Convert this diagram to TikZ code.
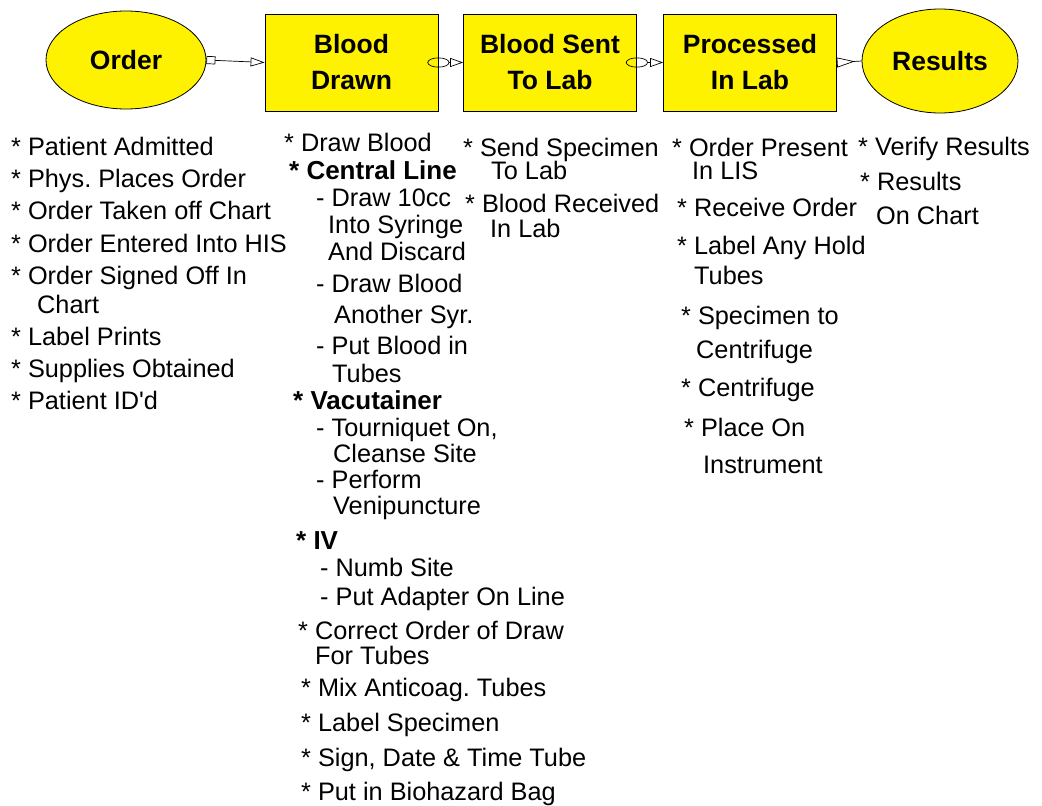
\documentclass[tikz,border=0pt]{standalone}
\usepackage{fontspec}
\setmainfont{Liberation Sans}
\usepackage{tikz}
\usetikzlibrary{arrows.meta, positioning, shapes.geometric}
\frenchspacing

\tikzset{
  stage/.style={draw=black, fill=yellow, line width=0.8pt, minimum width=173pt, minimum height=97pt,
    align=center, font=\fontsize{26.5}{36}\selectfont\bfseries},
  goal/.style={stage, ellipse, minimum width=160pt, minimum height=98pt},
  item/.style={anchor=base west, inner sep=0pt, align=left, font=\fontsize{25.3}{25}\selectfont},
  head/.style={item, font=\fontsize{26}{26}\selectfont\bfseries},
  link/.style={draw=black, line width=0.7pt},
}

\begin{document}
\begin{tikzpicture}[x=1pt,y=-1pt]
			\useasboundingbox (0,0) rectangle (1042,806);
			% top row
			\node[goal] (order) at (126,60) {Order};
			\node[stage] (drawn) at (351.5,62.5) {Blood\\Drawn};
			\node[stage] (sent) at (550,62.5) {Blood Sent\\To Lab};
			\node[stage] (proc) at (750,62.5) {Processed\\In Lab};
			\node[goal, minimum width=156pt, minimum height=104pt] (res) at (940,61) {Results};
			\draw[link, {Rectangle[open,length=9pt,width=8pt]}-{Triangle[open,length=14pt,width=9pt]}] (order.east) -- (drawn.west);
			\draw[link, shorten <=-11pt, {Ellipse[open,length=22pt,width=10pt]}-{Triangle[open,length=13pt,width=9pt]}] (drawn.east) -- (sent.west);
			\draw[link, shorten <=-11pt, {Ellipse[open,length=22pt,width=10pt]}-{Triangle[open,length=13pt,width=9pt]}] (sent.east) -- (proc.west);
			\draw[link, {Triangle[open,length=18pt,width=10pt,reversed]}-] (proc.east) -- (res.west);
			% order (multi-line items are placed by their last line)
			\node[item] (ord1) at (11,155) {* Patient Admitted};
			\node[item] (ord2) at (11,187) {* Phys. Places Order};
			\node[item] (ord3) at (11,219) {* Order Taken off Chart};
			\node[item] (ord4) at (11,252) {* Order Entered Into HIS};
			\node[item] (ord5) at (11,313) {* Order Signed Off In\\[4pt]\hspace*{26pt}Chart};
			\node[item] (ord6) at (11,345) {* Label Prints};
			\node[item] (ord7) at (11,377) {* Supplies Obtained};
			\node[item] (ord8) at (11,409) {* Patient ID\textquotesingle d};
			% blood drawn
			\node[item] (drw1) at (284,151) {* Draw Blood};
			\node[head] (drw2) at (289,179) {* Central Line};
			\node[item] (drw3) at (316,260) {- Draw 10cc\\[2pt]\hspace*{12pt}Into Syringe\\[2pt]\hspace*{12pt}And Discard};
			\node[item] (drw4) at (316,323) {- Draw Blood\\[6pt]\hspace*{18pt}Another Syr.};
			\node[item] (drw5) at (316,382) {- Put Blood in\\[3pt]\hspace*{16pt}Tubes};
			\node[head] (drw6) at (293,409) {* Vacutainer};
			\node[item] (drw7) at (316,462) {- Tourniquet On,\\[1pt]\hspace*{17pt}Cleanse Site};
			\node[item] (drw8) at (316,514) {- Perform\\[1pt]\hspace*{17pt}Venipuncture};
			\node[head] (drw9) at (296,549) {* IV};
			\node[item] (drw10) at (320,576) {- Numb Site};
			\node[item] (drw11) at (320,605) {- Put Adapter On Line};
			\node[item] (drw12) at (298,664) {* Correct Order of Draw\\\hspace*{17pt}For Tubes};
			\node[item] (drw13) at (301,696) {* Mix Anticoag. Tubes};
			\node[item] (drw14) at (301,731) {* Label Specimen};
			\node[item] (drw15) at (301,766) {* Sign, Date \& Time Tube};
			\node[item] (drw16) at (301,800) {* Put in Biohazard Bag};
			% sent to lab
			\node[item] (snt1) at (463,179) {* Send Specimen\\[-2pt]\hspace*{28pt}To Lab};
			\node[item] (snt2) at (465,237) {* Blood Received\\\hspace*{25pt}In Lab};
			% processed
			\node[item] (prc1) at (672,179) {* Order Present\\[-2pt]\hspace*{20pt}In LIS};
			\node[item] (prc2) at (677,216) {* Receive Order};
			\node[item] (prc3) at (677,284) {* Label Any Hold\\[5pt]\hspace*{17pt}Tubes};
			\node[item] (prc4) at (681,358) {* Specimen to\\[9pt]\hspace*{15pt}Centrifuge};
			\node[item] (prc5) at (681,396) {* Centrifuge};
			\node[item] (prc6) at (684,473) {* Place On\\[12pt]\hspace*{19pt}Instrument};
			% results
			\node[item] (res1) at (858,155) {* Verify Results};
			\node[item] (res2) at (860,224) {* Results\\[9pt]\hspace*{16pt}On Chart};
\end{tikzpicture}
\end{document}
